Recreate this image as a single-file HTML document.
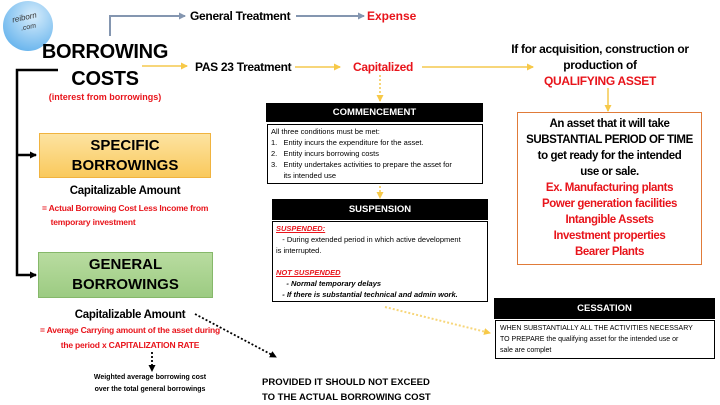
<!DOCTYPE html>
<html><head><meta charset="utf-8"><style>
body{margin:0;width:720px;height:405px;background:#fff;position:relative;overflow:hidden;font-family:"Liberation Sans",sans-serif;}
.t{position:absolute;white-space:nowrap;font-weight:bold;}
.c{text-align:center;}
.red{color:#e8141b;}
.hdr{position:absolute;background:#000;color:#fff;font-weight:bold;font-size:9.5px;text-align:center;}
.box{position:absolute;border:1px solid #000;box-sizing:border-box;background:#fff;}
</style></head><body>
<div style="position:absolute;left:3px;top:1px;width:50px;height:50px;border-radius:50%;background:radial-gradient(circle at 60% 30%,#d6ecfb,#6fb8ee 75%,#4aa3e6);"></div>
<div class="t" style="left:12px;top:13px;font-size:8px;font-style:italic;color:#333;font-weight:normal;transform:rotate(-12deg)">reiborn</div>
<div class="t" style="left:21px;top:24px;font-size:7px;font-style:italic;color:#333;font-weight:normal;transform:rotate(-12deg)">.com</div>

<svg width="720" height="405" style="position:absolute;left:0;top:0">
<defs>
<marker id="ag" markerUnits="userSpaceOnUse" markerWidth="7" markerHeight="7" refX="6" refY="3.5" orient="auto"><path d="M0,0L7,3.5L0,7z" fill="#8496b0"/></marker>
<marker id="ay" markerUnits="userSpaceOnUse" markerWidth="7" markerHeight="7" refX="6" refY="3.5" orient="auto"><path d="M0,0L7,3.5L0,7z" fill="#f7c948"/></marker>
<marker id="ab" markerUnits="userSpaceOnUse" markerWidth="7" markerHeight="7" refX="6" refY="3.5" orient="auto"><path d="M0,0L7,3.5L0,7z" fill="#000"/></marker>
</defs>
<path d="M110,36V16H185" stroke="#8496b0" stroke-width="2" fill="none" marker-end="url(#ag)"/>
<path d="M296,16H364" stroke="#8496b0" stroke-width="2" fill="none" marker-end="url(#ag)"/>
<path d="M142,66H187" stroke="#f7d67a" stroke-width="2" marker-end="url(#ay)"/>
<path d="M295,67H340" stroke="#f7d67a" stroke-width="2" marker-end="url(#ay)"/>
<path d="M422,67H533" stroke="#f7d67a" stroke-width="2" marker-end="url(#ay)"/>
<path d="M608,88V111" stroke="#f7d67a" stroke-width="2" marker-end="url(#ay)"/>
<path d="M380,75V101" stroke="#f7d67a" stroke-width="2" stroke-dasharray="2,2" marker-end="url(#ay)"/>
<path d="M380,186V198" stroke="#f7d67a" stroke-width="2" stroke-dasharray="2,2" marker-end="url(#ay)"/>
<path d="M385,307L490,333" stroke="#f7d67a" stroke-width="2" stroke-dasharray="2,2" marker-end="url(#ay)"/>
<path d="M58,70H17V275H36" stroke="#000" stroke-width="2.5" fill="none" marker-end="url(#ab)"/>
<path d="M17,155H36" stroke="#000" stroke-width="2.5" marker-end="url(#ab)"/>
<path d="M195,314L276,357" stroke="#000" stroke-width="1.8" stroke-dasharray="2,2" marker-end="url(#ab)"/>
<path d="M152,352V371" stroke="#000" stroke-width="1.8" stroke-dasharray="2,2" marker-end="url(#ab)"/>
</svg>

<div class="t" style="left:190px;top:9px;font-size:12px;letter-spacing:-0.3px">General Treatment</div>
<div class="t red" style="left:367px;top:9px;font-size:12px">Expense</div>
<div class="t c" style="left:30px;top:39px;width:150px;font-size:20px;line-height:27px;letter-spacing:-0.3px">BORROWING<br>COSTS</div>
<div class="t c red" style="left:30px;top:92px;width:150px;font-size:9px">(interest from borrowings)</div>
<div class="t" style="left:195px;top:60px;font-size:12px;letter-spacing:-0.3px">PAS 23 Treatment</div>
<div class="t red" style="left:353px;top:60px;font-size:12px;letter-spacing:-0.3px">Capitalized</div>
<div class="t c" style="left:490px;top:41px;width:220px;font-size:12px;line-height:16px;letter-spacing:-0.3px">If for acquisition, construction or<br>production of<br><span class="red">QUALIFYING ASSET</span></div>

<div style="position:absolute;left:517px;top:112px;width:185px;height:153px;border:1px solid #e07b39;box-sizing:border-box"></div>
<div class="t c" style="left:517px;top:116px;width:185px;font-size:11.5px;line-height:16px;letter-spacing:-0.4px">An asset that it will take<br>SUBSTANTIAL PERIOD OF TIME<br>to get ready for the intended<br>use or sale.<br><span class="red">Ex. Manufacturing plants<br>Power generation facilities<br>Intangible Assets<br>Investment properties<br>Bearer Plants</span></div>

<div class="hdr" style="left:266px;top:103px;width:217px;height:19px;line-height:19px">COMMENCEMENT</div>
<div class="box" style="left:267px;top:124px;width:216px;height:60px"></div>
<div class="t" style="left:271px;top:126px;font-size:7.5px;font-weight:normal;line-height:11px">All three conditions must be met:<br>1.&nbsp;&nbsp; Entity incurs the expenditure for the asset.<br>2.&nbsp;&nbsp; Entity incurs borrowing costs<br>3.&nbsp;&nbsp; Entity undertakes activities to prepare the asset for<br>&nbsp;&nbsp;&nbsp;&nbsp;&nbsp; its intended use</div>

<div class="hdr" style="left:272px;top:199px;width:216px;height:21px;line-height:21px">SUSPENSION</div>
<div class="box" style="left:272px;top:221px;width:216px;height:81px"></div>
<div class="t" style="left:276px;top:223px;font-size:7.5px;font-weight:normal;line-height:11px"><span style="color:#e8141b;font-weight:bold;font-style:italic;text-decoration:underline">SUSPENDED:</span><br>&nbsp;&nbsp; - During extended period in which active development<br>is interrupted.<br><br><span style="color:#e8141b;font-weight:bold;font-style:italic;text-decoration:underline">NOT SUSPENDED</span><br><i style="font-weight:bold">&nbsp;&nbsp;&nbsp;&nbsp; - Normal temporary delays<br>&nbsp;&nbsp; - If there is substantial technical and admin work.</i></div>

<div class="hdr" style="left:494px;top:298px;width:221px;height:21px;line-height:21px">CESSATION</div>
<div class="box" style="left:495px;top:320px;width:220px;height:39px"></div>
<div class="t" style="left:500px;top:323px;font-size:7px;font-weight:normal;line-height:11px">WHEN SUBSTANTIALLY ALL THE ACTIVITIES NECESSARY<br>TO PREPARE the qualifying asset for the intended use or<br>sale are complet</div>

<div style="position:absolute;left:39px;top:133px;width:172px;height:45px;background:linear-gradient(#fde3a1,#f9c95c);border:1px solid #f0b33f;box-sizing:border-box"></div>
<div class="t c" style="left:39px;top:136px;width:172px;font-size:15px;line-height:20px">SPECIFIC<br>BORROWINGS</div>
<div class="t c" style="left:40px;top:185px;width:170px;font-size:11.5px;letter-spacing:-0.3px">Capitalizable Amount</div>
<div class="t red" style="left:42px;top:201px;font-size:8.5px;line-height:14px;letter-spacing:-0.2px">= Actual Borrowing Cost Less Income from<br>&nbsp;&nbsp;&nbsp;&nbsp;temporary investment</div>

<div style="position:absolute;left:38px;top:252px;width:175px;height:46px;background:linear-gradient(#b9dca0,#9ccb82);border:1px solid #86b86a;box-sizing:border-box"></div>
<div class="t c" style="left:38px;top:255px;width:175px;font-size:15px;line-height:20px">GENERAL<br>BORROWINGS</div>
<div class="t c" style="left:50px;top:309px;width:160px;font-size:11.5px;letter-spacing:-0.3px">Capitalizable Amount</div>
<div class="t c red" style="left:14px;top:323px;width:232px;font-size:8.5px;line-height:15px;letter-spacing:-0.2px">= Average Carrying amount of the asset during<br>the period x CAPITALIZATION RATE</div>
<div class="t c" style="left:75px;top:372px;width:150px;font-size:7px;line-height:12px">Weighted average borrowing cost<br>over the total general borrowings</div>
<div class="t" style="left:262px;top:375px;font-size:9.5px;line-height:15px">PROVIDED IT SHOULD NOT EXCEED<br>TO THE ACTUAL BORROWING COST</div>
</body></html>
